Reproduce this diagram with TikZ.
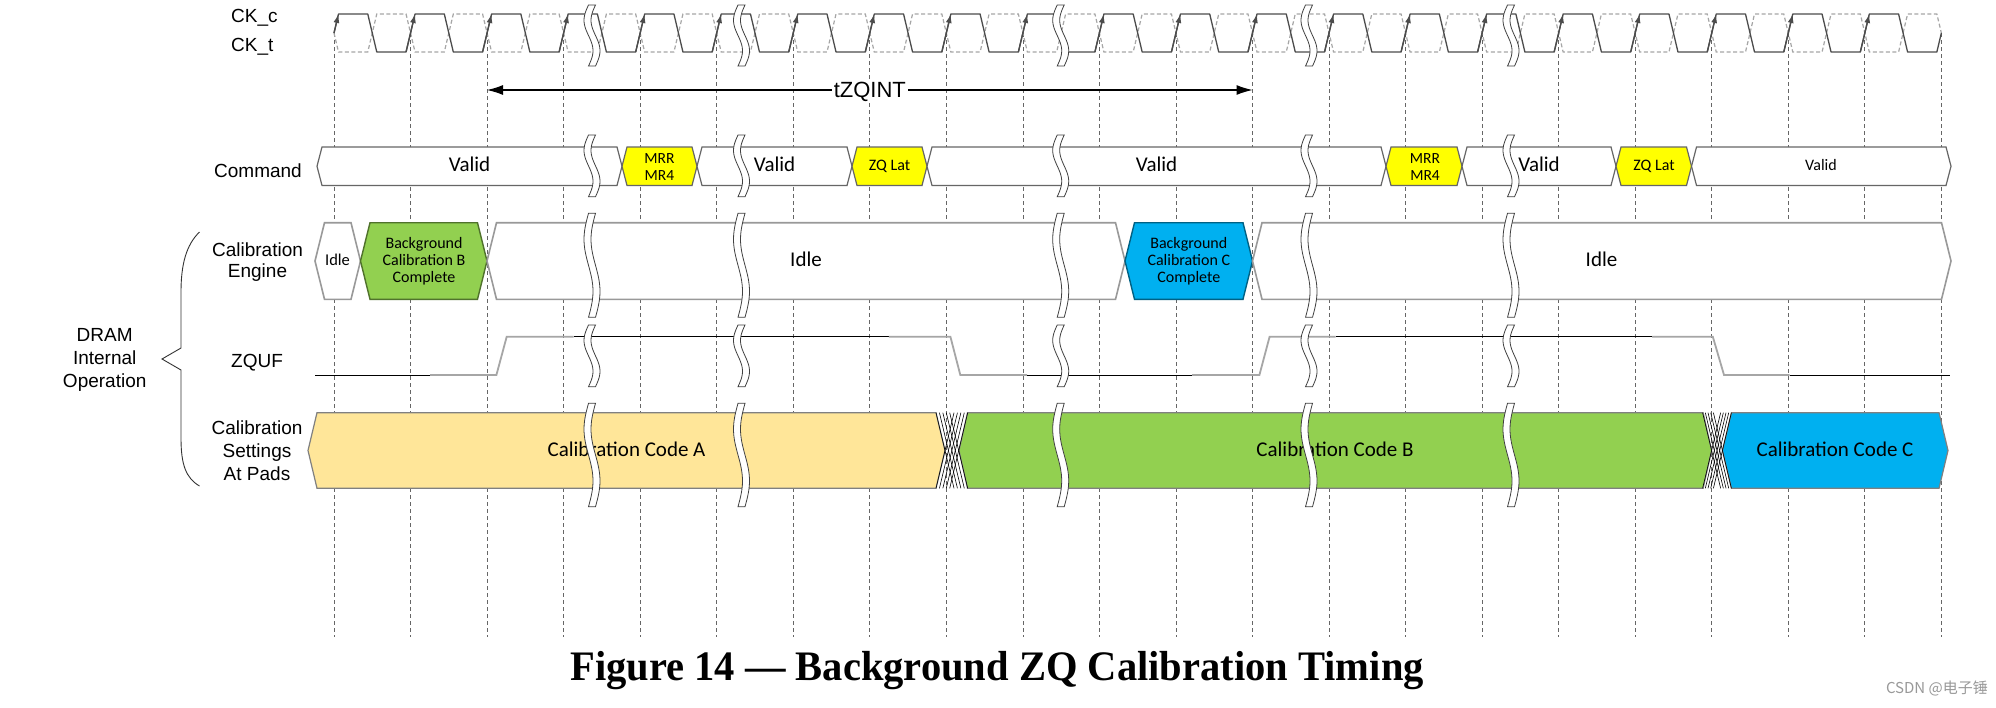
\documentclass[tikz,border=0pt]{standalone}
\usepackage{fontspec}
\setmainfont{Liberation Sans}
\newfontfamily\calfont{Carlito}
\newfontfamily\capfont{Liberation Serif}
\newfontfamily\cjkfont{Noto Sans CJK SC}
\usetikzlibrary{arrows.meta}
\definecolor{cyel}{HTML}{FFFF00}
\definecolor{corng}{HTML}{FFE699}
\definecolor{cgrn}{HTML}{92D050}
\definecolor{cblu}{HTML}{00B0F0}
\newcommand\hexseg[6]{\path[#6] (#1,{(#3+#4)/2}) -- ({#1+#5},#3) -- ({#2-#5},#3) -- (#2,{(#3+#4)/2}) -- ({#2-#5},#4) -- ({#1+#5},#4) -- cycle;}
\newcommand\xcross[4]{\foreach \ii in {0,...,4} {\draw[xline] ({#1+\ii*(#2-#1)/4},#3) -- ({#1+\ii*(#2-#1)/4+18},#4); \draw[xline] ({#1+\ii*(#2-#1)/4},#4) -- ({#1+\ii*(#2-#1)/4+18},#3);}}
\newcommand\brkmark[3]{\path[brk] plot[domain=0:1,samples=30,variable=\tt] ({#1-3.5-4.5*sin(360*\tt)},{#2+\tt*(#3-#2)}) -- plot[domain=1:0,samples=30,variable=\tt] ({#1+3.5-4.5*sin(360*\tt)},{#2+\tt*(#3-#2)}) -- cycle;}
\newcommand\lblfnt{\fontsize{19}{23}\selectfont}
\begin{document}
\begin{tikzpicture}[x=1pt,y=-1pt,
  vdash/.style={draw=black!60,line width=0.7pt,dash pattern=on 4pt off 3pt},
  ckdash/.style={draw=black!35,line width=1.2pt,dash pattern=on 4pt off 2.5pt},
  cksolid/.style={draw=black!70,line width=1.3pt,line join=round},
  cmdbox/.style={draw=black!60,line width=1.2pt},
  engbox/.style={draw=black!40,line width=1.6pt},
  setbox/.style={draw=black!50,line width=1.2pt},
  xline/.style={draw=black,line width=0.6pt},
  zqblk/.style={draw=black,line width=1pt},
  zqgry/.style={draw=black!35,line width=1.8pt},
  brk/.style={fill=white,draw=black!75,line width=0.8pt},
  lbl/.style={font=\lblfnt,anchor=base,inner sep=0pt},
  bxbig/.style={font=\calfont\fontsize{21}{24}\selectfont,anchor=base,inner sep=0pt},
  bxsm/.style={font=\calfont\fontsize{16}{18}\selectfont,anchor=base,inner sep=0pt},
  bxmrr/.style={font=\calfont\fontsize{15.5}{17}\selectfont,anchor=base,inner sep=0pt}]
\fill[white] (0,0) rectangle (1996,707);
\useasboundingbox (0,0) rectangle (1996,707);
% vertical dashed clock lines
\foreach \n in {0,...,21} \draw[vdash] ({334+\n*76.54},33) -- ({334+\n*76.54},636.7);
% clock
\draw[ckdash] (334,33) -- (338.5,52)
  \foreach \k [evaluate=\k as \ya using {33+19*cos(180*(\k-1))}, evaluate=\k as \yb using {33-19*cos(180*(\k-1))}] in {1,...,41} { -- ({334+\k*38.27-4.5},\ya) -- ({334+\k*38.27+4.5},\yb) }
  -- ({334+42*38.27-4.5},14) -- ({334+42*38.27},33);
\draw[cksolid] (334,33) -- (338.5,14)
  \foreach \k [evaluate=\k as \ya using {33-19*cos(180*(\k-1))}, evaluate=\k as \yb using {33+19*cos(180*(\k-1))}] in {1,...,41} { -- ({334+\k*38.27-4.5},\ya) -- ({334+\k*38.27+4.5},\yb) }
  -- ({334+42*38.27-4.5},52) -- ({334+42*38.27},33);
\draw[cksolid,-{Latex[length=9pt,width=6pt]}] (334,33) -- (338.5,14);
\foreach \n in {1,...,20} \draw[cksolid,-{Latex[length=9pt,width=6pt]}] ({334+\n*76.54-4.5},52) -- ({334+\n*76.54+4.5},14);
% tZQINT
\coordinate (tzA) at (487,90);
\coordinate (tzB) at (1252.5,90);
\draw[line width=1.1pt,{Latex[length=16pt,width=10pt]}-{Latex[length=16pt,width=10pt]}] (tzA) -- (tzB);
\node[font=\fontsize{22}{26}\selectfont,anchor=base,fill=white,inner xsep=2pt,inner ysep=1pt] (tz) at (869.8,97.3) {tZQINT};
% Command row
\hexseg{317}{622}{147}{185.5}{5}{cmdbox,fill=white}
\hexseg{622}{697}{147}{185.5}{5}{cmdbox,fill=cyel}
\hexseg{697}{852}{147}{185.5}{5}{cmdbox,fill=white}
\hexseg{852}{927}{147}{185.5}{5}{cmdbox,fill=cyel}
\hexseg{927}{1386}{147}{185.5}{5}{cmdbox,fill=white}
\hexseg{1386}{1462}{147}{185.5}{5}{cmdbox,fill=cyel}
\hexseg{1462}{1616}{147}{185.5}{5}{cmdbox,fill=white}
\hexseg{1616}{1691.5}{147}{185.5}{5}{cmdbox,fill=cyel}
\hexseg{1691.5}{1951}{147}{185.5}{5}{cmdbox,fill=white}
% Engine row
\hexseg{315}{360.5}{222.7}{299.3}{9.5}{engbox,fill=white}
\hexseg{360.5}{487}{222.7}{299.3}{9.5}{fill=cgrn,draw=cgrn!55!black,line width=1.4pt}
\hexseg{487}{1125}{222.7}{299.3}{9.5}{engbox,fill=white}
\hexseg{1125}{1252.5}{222.7}{299.3}{9.5}{fill=cblu,draw=cblu!55!black,line width=1.4pt}
\hexseg{1252.5}{1951}{222.7}{299.3}{9.5}{engbox,fill=white}
% ZQUF
\draw[zqblk] (315,375) -- (430,375);
\draw[zqgry] (430,375) -- (496.4,375) -- (506.7,336.7) -- (573.7,336.7);
\draw[zqblk] (573.7,336.7) -- (888.8,336.7);
\draw[zqgry] (888.8,336.7) -- (950.4,336.7) -- (960.3,375) -- (1027,375);
\draw[zqblk] (1027,375) -- (1192,375);
\draw[zqgry] (1192,375) -- (1259.4,375) -- (1269.6,336.7) -- (1335.5,336.7);
\draw[zqblk] (1335.5,336.7) -- (1652,336.7);
\draw[zqgry] (1652,336.7) -- (1712.8,336.7) -- (1724,375) -- (1789.6,375);
\draw[zqblk] (1789.6,375) -- (1950,375);
% Settings row
\hexseg{308}{945}{412.7}{488.3}{9}{setbox,fill=corng}
\hexseg{959}{1711.6}{412.7}{488.3}{8.5}{setbox,fill=cgrn}
\hexseg{1722.4}{1948}{412.7}{488.3}{9}{setbox,fill=cblu}
\xcross{936}{949.7}{412.7}{488.3}
\xcross{1702.6}{1713.4}{412.7}{488.3}
% box texts
\node[bxbig] (v1) at (469.5,171) {Valid};
\node[bxmrr] (m1a) at (659.5,163.3) {MRR};
\node[bxmrr] (m1b) at (659.5,180) {MR4};
\node[bxbig] (v2) at (774.5,171) {Valid};
\node[bxsm] (z1) at (889.5,170.5) {ZQ Lat};
\node[bxbig] (v3) at (1156.5,171) {Valid};
\node[bxmrr] (m2a) at (1425,163.3) {MRR};
\node[bxmrr] (m2b) at (1425,180) {MR4};
\node[bxbig] (v4) at (1539,171) {Valid};
\node[bxsm] (z2) at (1654,170.5) {ZQ Lat};
\node[bxsm] (v5) at (1821,170.7) {Valid};
\node[font=\calfont\fontsize{16.5}{18}\selectfont,anchor=base,inner sep=0pt] (i1) at (337.5,265.7) {Idle};
\node[bxsm] (gb1) at (424,248.5) {Background};
\node[bxsm] (gb2) at (424,265.5) {Calibration B};
\node[bxsm] (gb3) at (424,282.5) {Complete};
\node[bxbig] (i2) at (806,266.7) {Idle};
\node[bxsm] (bc1) at (1188.8,248.5) {Background};
\node[bxsm] (bc2) at (1188.8,265.5) {Calibration C};
\node[bxsm] (bc3) at (1188.8,282.5) {Complete};
\node[bxbig] (i3) at (1601.5,266.7) {Idle};
\node[bxbig] (ca) at (626.5,456.7) {Calibration Code A};
\node[bxbig] (cb) at (1335,456.7) {Calibration Code B};
\node[bxbig] (cc) at (1835,456.7) {Calibration Code C};
% break marks
\foreach \bx in {592,741.5,1060.7,1309,1511} {
  \brkmark{\bx}{5}{66}
  \brkmark{\bx}{135}{196.7}
  \brkmark{\bx}{213.3}{317.3}
  \brkmark{\bx}{325}{386.7}
  \brkmark{\bx}{403.3}{506.7}
}
% row labels
\node[lbl,anchor=base west] (ckc) at (231,22.7) {CK\_c};
\node[lbl,anchor=base west] (ckt) at (231,51.7) {CK\_t};
\node[lbl] (cmd) at (258,177) {Command};
\node[lbl] (ce1) at (257.5,256) {Calibration};
\node[lbl] (ce2) at (257.5,277.3) {Engine};
\node[lbl] (zq) at (257,367.3) {ZQUF};
\node[lbl] (cs1) at (257,434.3) {Calibration};
\node[lbl] (cs2) at (257,457.2) {Settings};
\node[lbl] (cs3) at (257,480) {At Pads};
\node[lbl] (dr1) at (104.7,341) {DRAM};
\node[lbl] (dr2) at (104.7,364.3) {Internal};
\node[lbl] (dr3) at (104.7,387.3) {Operation};
% brace
\draw[black!80,line width=0.9pt] (199.5,232) .. controls (186,245) and (181,265) .. (181,292) -- (181,348) -- (162,359) -- (181,370) -- (181,438) .. controls (181,465) and (186,478) .. (199.5,486);
% caption
\node[anchor=base,inner sep=0pt,font=\capfont\bfseries\fontsize{42}{46}\selectfont] (cap) at (997,680) {\scalebox{0.965}[1]{Figure 14 — Background ZQ Calibration Timing}};
\node[anchor=base east,inner sep=0pt,text=black!40,font=\cjkfont\fontsize{15}{17}\selectfont] (wm) at (1988,693) {CSDN @电子锤};
\end{tikzpicture}
\end{document}
